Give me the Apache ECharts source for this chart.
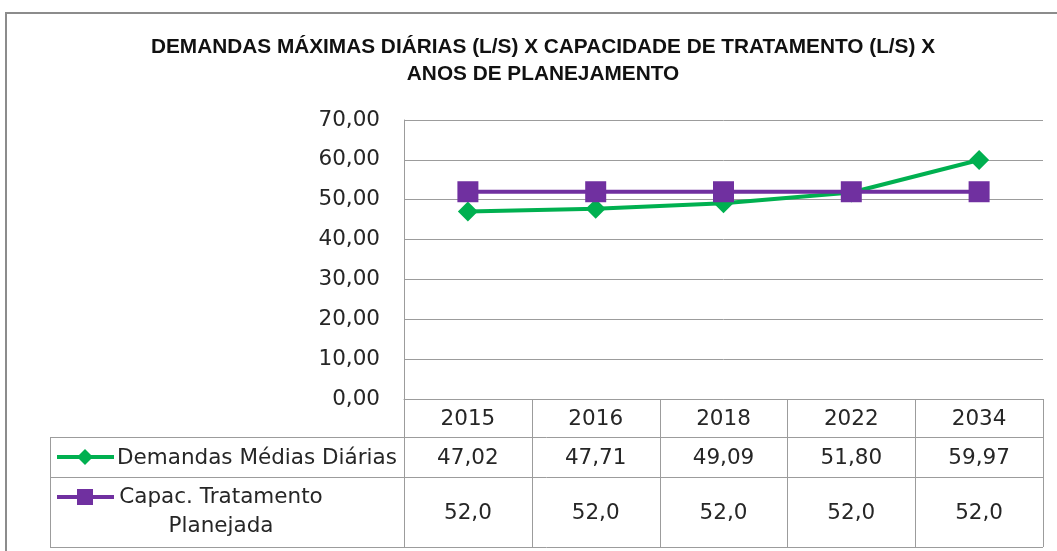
<!DOCTYPE html>
<html>
<head>
<meta charset="utf-8">
<script src="https://cdn.jsdelivr.net/npm/echarts@6/dist/echarts.min.js"></script>
<style>
  html, body { margin: 0; padding: 0; background: #fff; }
  #chart { width: 1057px; height: 551px; }
</style>
</head>
<body>
<div id="chart"></div>
<script>
// dados do gráfico
const anos = ['2015', '2016', '2018', '2022', '2034']
const demandas = [47.02, 47.71, 49.09, 51.80, 59.97]
const capacidade = [52.0, 52.0, 52.0, 52.0, 52.0]
const nomeDemandas = 'Demandas Médias Diárias'
const nomeCapacidade = 'Capac. Tratamento\nPlanejada'
const titulo = 'DEMANDAS MÁXIMAS DIÁRIAS (L/S) X CAPACIDADE DE TRATAMENTO (L/S) X\nANOS DE PLANEJAMENTO'

const VERDE = '#00b050'
const ROXO = '#7030a0'
const CINZA = '#9c9c9c'
const TEXTO = '#262626'
const FONTE = 'DejaVu Sans'
const TAM = 21.5

// layout
const gridLeft = 404
const gridRight = 1043
const gridTop = 120
const gridBottom = 399
const rowY = [399, 437, 477, 547] // linhas da tabela de dados
const tableLeft = 50

const fmt = (v, d) => v.toFixed(d).replace('.', ',')

const chart = echarts.init(document.getElementById('chart'))

// tabela de dados (desenhada abaixo do eixo x)
function buildTable () {
  const n = anos.length
  const colW = (gridRight - gridLeft) / n
  const els = []
  const line = (x1, y1, x2, y2) => els.push({
    type: 'line', silent: true,
    shape: { x1, y1, x2, y2 },
    style: { stroke: CINZA, lineWidth: 1 }
  })
  // horizontais
  line(tableLeft, rowY[1] + 0.5, gridRight, rowY[1] + 0.5)
  line(tableLeft, rowY[2] + 0.5, gridRight, rowY[2] + 0.5)
  line(tableLeft, rowY[3] + 0.5, gridRight, rowY[3] + 0.5)
  // verticais
  line(tableLeft + 0.5, rowY[1], tableLeft + 0.5, rowY[3])
  for (let i = 0; i <= n; i++) {
    const x = Math.round(gridLeft + i * colW) + 0.5
    line(x, rowY[0], x, rowY[3])
  }
  // textos
  const txt = (text, x, y, extra) => els.push({
    type: 'text', silent: true, x, y,
    style: Object.assign({
      text, fill: TEXTO, font: TAM + 'px ' + FONTE,
      align: 'center', verticalAlign: 'middle'
    }, extra || {})
  })
  for (let i = 0; i < n; i++) {
    const pt = chart.convertToPixel({ xAxisIndex: 0 }, i)
    const cx = Array.isArray(pt) ? pt[0] : pt
    txt(anos[i], cx, (rowY[0] + rowY[1]) / 2 + 1)
    txt(fmt(demandas[i], 2), cx, (rowY[1] + rowY[2]) / 2 + 1)
    txt(fmt(capacidade[i], 1), cx, (rowY[2] + rowY[3]) / 2 + 1)
  }
  // legendas dentro da tabela
  const y1 = (rowY[1] + rowY[2]) / 2
  const y2 = rowY[2] + 20
  els.push({ type: 'line', silent: true, shape: { x1: 57, y1: y1, x2: 114, y2: y1 }, style: { stroke: VERDE, lineWidth: 4 } })
  els.push({ type: 'polygon', silent: true, shape: { points: [[85, y1 - 8], [93, y1], [85, y1 + 8], [77, y1]] }, style: { fill: VERDE } })
  els.push({ type: 'line', silent: true, shape: { x1: 57, y1: y2, x2: 114, y2: y2 }, style: { stroke: ROXO, lineWidth: 4 } })
  els.push({ type: 'rect', silent: true, shape: { x: 77, y: y2 - 8, width: 16, height: 16 }, style: { fill: ROXO } })
  txt(nomeDemandas, 117, y1 + 1, { align: 'left' })
  txt(nomeCapacidade, 221, y2 - 14, { verticalAlign: 'top', lineHeight: 29 })
  return els
}

chart.setOption({
  animation: false,
  backgroundColor: '#fff',
  grid: {
    left: gridLeft,
    right: 1057 - gridRight,
    top: gridTop,
    bottom: 551 - gridBottom
  },
  xAxis: {
    type: 'category',
    data: anos,
    boundaryGap: true,
    axisLine: { show: true, lineStyle: { color: CINZA, width: 1 } },
    axisTick: { show: false },
    axisLabel: { show: false },
    splitLine: { show: false }
  },
  yAxis: {
    type: 'value',
    min: 0,
    max: 70,
    interval: 10,
    axisLine: { show: true, lineStyle: { color: CINZA, width: 1 } },
    axisTick: { show: false },
    axisLabel: {
      margin: 24,
      color: TEXTO,
      fontFamily: FONTE,
      fontSize: TAM,
      formatter: (v) => fmt(v, 2)
    },
    splitLine: { show: true, lineStyle: { color: CINZA, width: 1 } }
  },
  series: [
    {
      name: nomeDemandas,
      type: 'line',
      data: demandas,
      symbol: 'diamond',
      symbolSize: 20,
      lineStyle: { color: VERDE, width: 4 },
      itemStyle: { color: VERDE }
    },
    {
      name: nomeCapacidade,
      type: 'line',
      data: capacidade,
      symbol: 'rect',
      symbolSize: 21,
      lineStyle: { color: ROXO, width: 4 },
      itemStyle: { color: ROXO }
    }
  ]
})

chart.setOption({
  graphic: [
    // moldura externa
    {
      type: 'polyline', silent: true,
      shape: { points: [[6, 560], [6, 13], [1070, 13]] },
      style: { stroke: '#8c8c8c', lineWidth: 2, fill: null }
    },
    {
      type: 'text', silent: true, x: 543, y: 61,
      style: {
        text: titulo, fill: '#111',
        font: 'bold 20.8px "Liberation Sans Narrow", "Liberation Sans", sans-serif',
        align: 'center', verticalAlign: 'middle', lineHeight: 27
      }
    }
  ].concat(buildTable())
})
</script>
</body>
</html>
